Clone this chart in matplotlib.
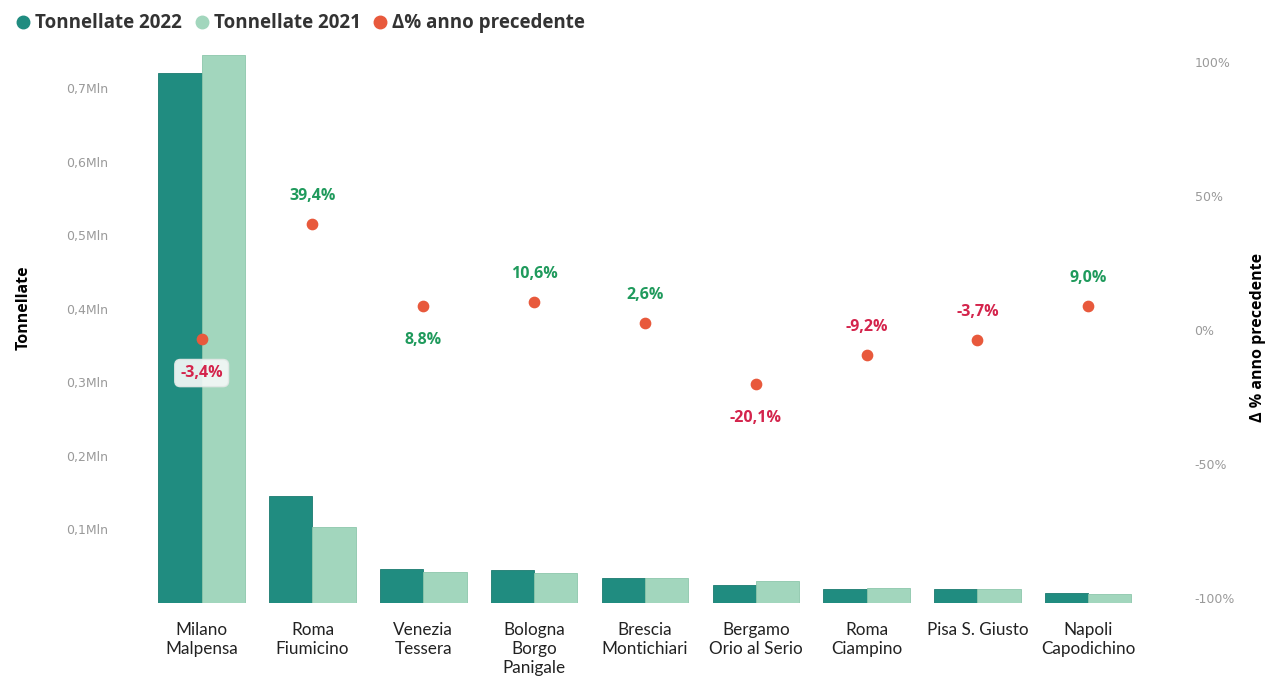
import matplotlib.pyplot as plt
from matplotlib.ticker import FuncFormatter
from matplotlib.lines import Line2D
import numpy as np

# data
airports = ["Milano\nMalpensa", "Roma\nFiumicino", "Venezia\nTessera", "Bologna\nBorgo\nPanigale",
            "Brescia\nMontichiari", "Bergamo\nOrio al Serio", "Roma\nCiampino", "Pisa S. Giusto",
            "Napoli\nCapodichino"]
tons_2022 = [720000, 145000, 46500, 45500, 34500, 24000, 19000, 18500, 13500]
tons_2021 = [745000, 104000, 42700, 41100, 33600, 30000, 20900, 19200, 12400]
delta_pct = [-3.4, 39.4, 8.8, 10.6, 2.6, -20.1, -9.2, -3.7, 9.0]
label_above = [False, True, False, True, True, False, True, True, True]

c22 = "#208c80"
c21 = "#a2d6bd"
c_dot = "#e8593c"
c_pos = "#1f9a5c"
c_neg = "#d4244c"

fig = plt.figure(figsize=(12.69, 6.84), dpi=100)
# axes box: x 144..1146 px, y 55..603 px
ax = fig.add_axes([0.1135, 0.1184, 0.7895, 0.8012])
ax2 = ax.twinx()

x = np.arange(len(airports))
w = 0.39
ax.bar(x - w / 2, tons_2022, width=w, color=c22, edgecolor="#1a7a70", linewidth=0.6)
ax.bar(x + w / 2, tons_2021, width=w, color=c21, edgecolor="#8cc7ab", linewidth=0.6)

ax.set_xlim(-0.52, len(airports) - 0.48)
ax.set_ylim(0, 745000)
ax.set_yticks([100000 * i for i in range(1, 8)])
ax.yaxis.set_major_formatter(FuncFormatter(lambda v, p: ("%.1fMln" % (v / 1e6)).replace(".", ",")))
ax.set_xticks(x)
ax.set_xticklabels(airports, fontsize=12.3, family="Lato", color="#222222", linespacing=1.2, va="top")
ax.tick_params(axis="x", length=0, pad=14)
ax.tick_params(axis="y", length=0, labelsize=9, labelcolor="#9a9a9a", pad=26)
ax.set_ylabel("Tonnellate", fontsize=11.5, fontweight="bold", family="Open Sans")
ax.yaxis.set_label_coords(-0.112, 0.538)
for s in ax.spines.values():
    s.set_visible(False)

# right axis: yearly change
ax2.scatter(x, delta_pct, s=55, color=c_dot, zorder=5)
ax2.set_ylim(-101.9, 102.6)
ax2.set_yticks([-100, -50, 0, 50, 100])
ax2.yaxis.set_major_formatter(FuncFormatter(lambda v, p: "%d%%" % v))
ax2.tick_params(axis="y", length=0, labelsize=9, labelcolor="#9a9a9a", pad=35)
ax2.set_ylabel("Δ % anno precedente", fontsize=11.5, fontweight="bold", family="Open Sans", rotation=90)
ax2.yaxis.set_label_coords(1.104, 0.484)
for s in ax2.spines.values():
    s.set_visible(False)

for i, (d, up) in enumerate(zip(delta_pct, label_above)):
    txt = ("%.1f%%" % d).replace(".", ",")
    col = c_pos if d >= 0 else c_neg
    off = 28 if up else -34
    bbox = None
    if i == 0:
        bbox = dict(boxstyle="round,pad=0.35", facecolor="#f4f8f7", edgecolor="#e2e8e6", alpha=0.92)
    ax2.annotate(txt, (x[i], d), xytext=(0, off), textcoords="offset pixels",
                 ha="center", va="center", fontsize=11.5, fontweight="bold", family="Open Sans",
                 color=col, bbox=bbox, zorder=6)

# legend across the top
handles = [Line2D([], [], marker="o", linestyle="", color=c22, markersize=9),
           Line2D([], [], marker="o", linestyle="", color=c21, markersize=9),
           Line2D([], [], marker="o", linestyle="", color=c_dot, markersize=9)]
names = ["Tonnellate 2022", "Tonnellate 2021", "Δ% anno precedente"]
fig.legend(handles, names, loc="center left", bbox_to_anchor=(-0.002, 0.966), ncol=3, frameon=False,
           handlelength=0.9, handletextpad=0.2, columnspacing=0.6,
           prop={"family": "Open Sans", "weight": "bold", "size": 13.5}, labelcolor="#333333")

fig.savefig("out.png", dpi=100)
